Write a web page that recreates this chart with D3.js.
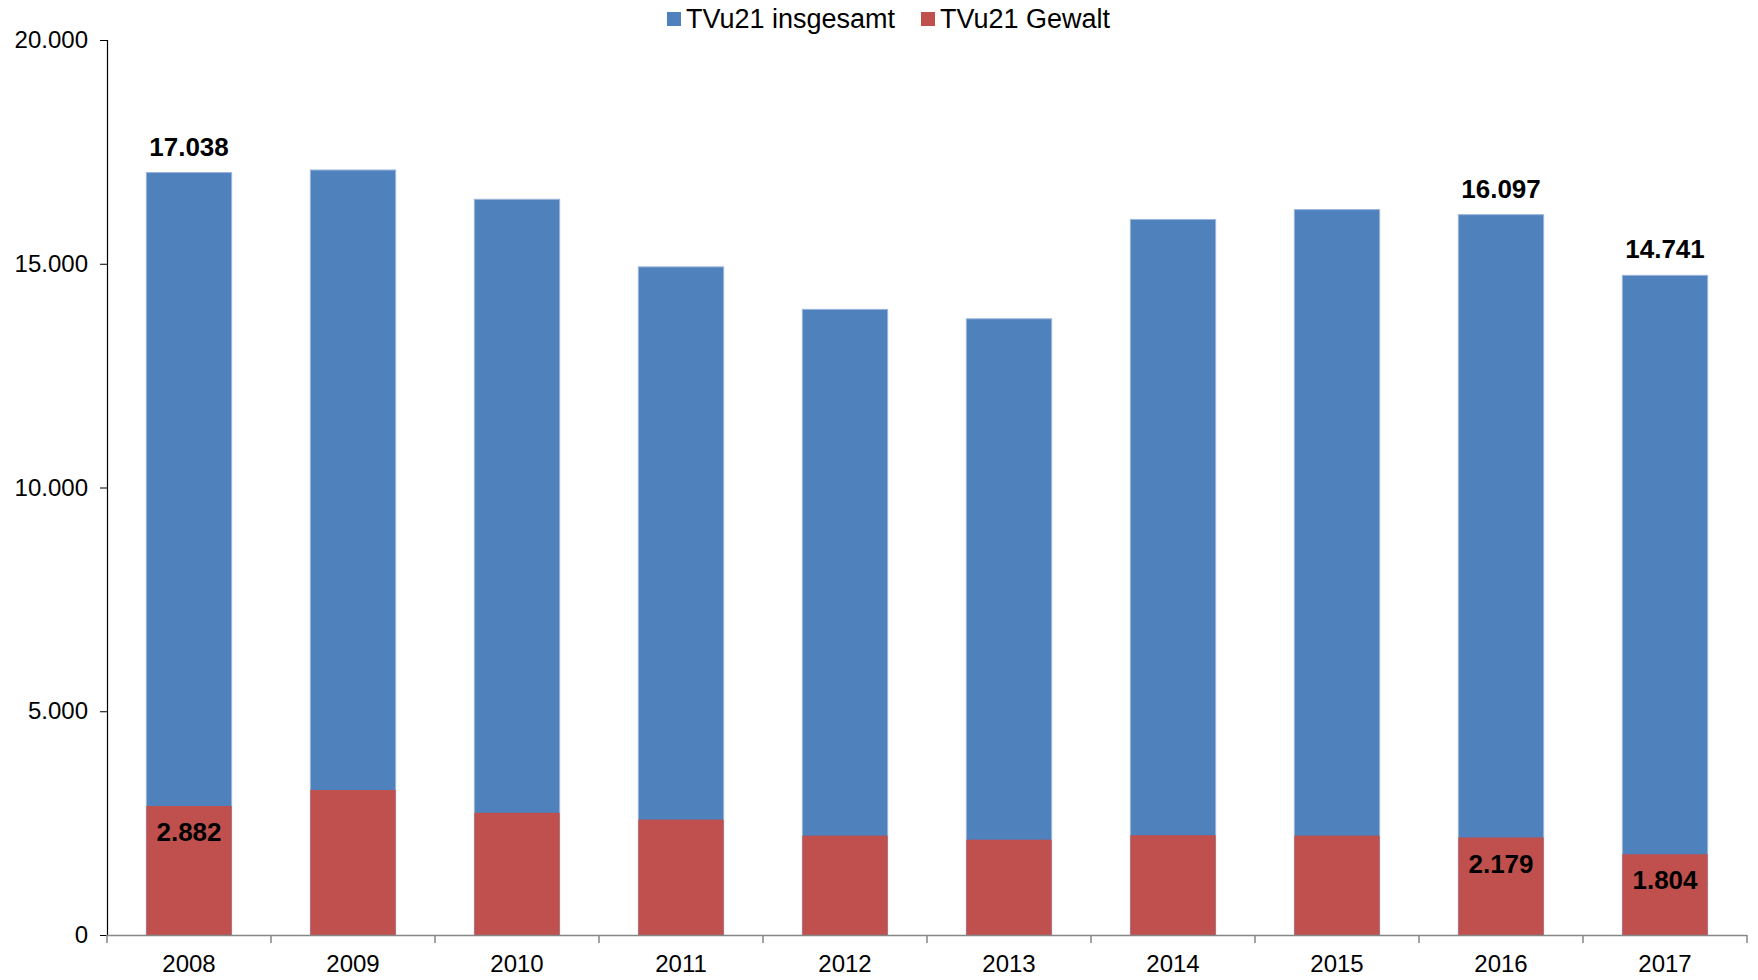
<!DOCTYPE html>
<html>
<head>
<meta charset="utf-8">
<script src="https://cdn.jsdelivr.net/npm/d3@7/dist/d3.min.js"></script>
<style>
  html, body { margin: 0; padding: 0; background: #fff; }
  svg { display: block; }
  text { font-family: "Liberation Sans", Arial, sans-serif; }
</style>
</head>
<body>
<svg id="chart" width="1758" height="980"></svg>
<script>
const years = ["2008","2009","2010","2011","2012","2013","2014","2015","2016","2017"];
const insgesamt = [17038, 17095, 16440, 14930, 13980, 13770, 15990, 16210, 16097, 14741];
const gewalt = [2882, 3240, 2730, 2580, 2220, 2130, 2230, 2220, 2179, 1804];
const labeledYears = ["2008", "2016", "2017"];
const yTicks = [0, 5000, 10000, 15000, 20000];
const seriesNames = ["TVu21 insgesamt", "TVu21 Gewalt"];
const seriesColors = ["#4F81BD", "#C0504D"];

(function () {
const de = d3.formatLocale({decimal: ",", thousands: ".", grouping: [3], currency: ["", "€"]});
const fmt = de.format(",d");

const svg = d3.select("#chart");
const mLeft = 107, mRight = 1747, mTop = 40, mBottom = 935;

const x = d3.scaleBand().domain(years).range([mLeft, mRight]).paddingInner(0.48).paddingOuter(0.24);
const y = d3.scaleLinear().domain([0, 20000]).range([mBottom, mTop]);

// bars: total (behind) and Gewalt (front)
const g = svg.append("g");
g.selectAll("rect.tot").data(years).join("rect")
  .attr("class", "tot")
  .attr("x", d => x(d)).attr("width", x.bandwidth())
  .attr("y", (d, i) => y(insgesamt[i]))
  .attr("height", (d, i) => y(0) - y(insgesamt[i]))
  .attr("fill", seriesColors[0])
  .attr("stroke", "#9ab5dc").attr("stroke-width", 1);
g.selectAll("rect.gew").data(years).join("rect")
  .attr("class", "gew")
  .attr("x", d => x(d)).attr("width", x.bandwidth())
  .attr("y", (d, i) => y(gewalt[i]))
  .attr("height", (d, i) => y(0) - y(gewalt[i]))
  .attr("fill", seriesColors[1]);

// y axis
const yAxis = svg.append("g").attr("transform", `translate(${mLeft},0)`)
  .call(d3.axisLeft(y).tickValues(yTicks).tickSize(7).tickPadding(12).tickFormat(fmt));
yAxis.select(".domain").attr("stroke", "#000").attr("stroke-width", 1.2).attr("d", `M0.5,${mTop}V${mBottom}`);
yAxis.selectAll(".tick line").attr("stroke", "#000");
yAxis.selectAll(".tick text").attr("font-size", 24).attr("fill", "#000")
  .attr("font-family", "'Liberation Sans', Arial, sans-serif");

// x axis
const xAxis = svg.append("g").attr("transform", `translate(0,${mBottom})`)
  .call(d3.axisBottom(x).tickSize(0).tickPadding(20));
xAxis.select(".domain").attr("stroke", "#868686").attr("stroke-width", 1.5).attr("d", `M${mLeft},0.5H${mRight}`);
xAxis.selectAll(".tick text").attr("font-size", 24).attr("fill", "#000")
  .attr("font-family", "'Liberation Sans', Arial, sans-serif");
// boundary tick marks between categories
const step = x.step();
const bounds = d3.range(years.length + 1).map(i => mLeft + i * step);
xAxis.selectAll("line.bnd").data(bounds).join("line")
  .attr("class", "bnd")
  .attr("x1", d => d).attr("x2", d => d)
  .attr("y1", 0).attr("y2", 8)
  .attr("stroke", "#868686").attr("stroke-width", 1.5);

// data labels
const lbl = svg.append("g").attr("font-weight", "bold").attr("font-size", 26).attr("text-anchor", "middle").attr("fill", "#000");
years.forEach((yr, i) => {
  if (!labeledYears.includes(yr)) return;
  const cx = x(yr) + x.bandwidth() / 2;
  lbl.append("text").attr("x", cx).attr("y", y(insgesamt[i]) - 26).attr("dy", "0.35em").text(fmt(insgesamt[i]));
  lbl.append("text").attr("x", cx).attr("y", y(gewalt[i]) + 26).attr("dy", "0.35em").text(fmt(gewalt[i]));
});

// legend
const leg = svg.append("g");
const legX = [667, 921];
seriesNames.forEach((name, i) => {
  leg.append("rect").attr("x", legX[i]).attr("y", 12).attr("width", 14).attr("height", 14).attr("fill", seriesColors[i]);
  leg.append("text").attr("x", legX[i] + 19).attr("y", 28).attr("font-size", 27).attr("fill", "#000").text(name);
});
})();
</script>
</body>
</html>
